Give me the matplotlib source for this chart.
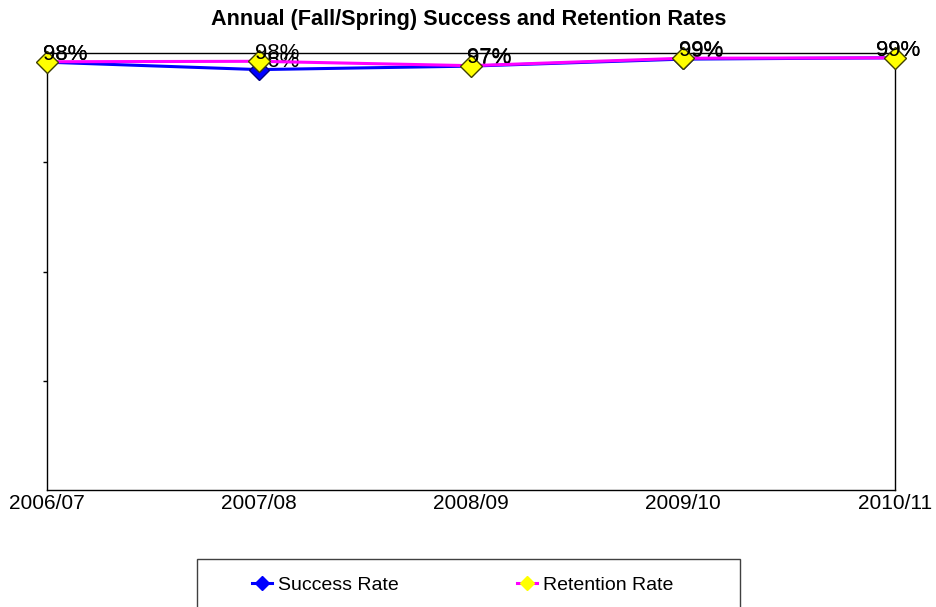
import matplotlib
matplotlib.use("Agg")
import matplotlib.pyplot as plt
from matplotlib.lines import Line2D
from matplotlib.patches import Rectangle

years = ["2006/07", "2007/08", "2008/09", "2009/10", "2010/11"]
success = [0.979, 0.962, 0.970, 0.986, 0.989]
retention = [0.980, 0.981, 0.971, 0.988, 0.989]
success_labels = ["98%", "96%", "97%", "99%", "99%"]
retention_labels = ["98%", "98%", "97%", "99%", "99%"]

plt.rcParams['font.family'] = ['Liberation Sans', 'DejaVu Sans']

W, H = 937, 607
fig = plt.figure(figsize=(W/100, H/100), dpi=100)
ax = fig.add_axes([47/W, 1-490/H, (895-47)/W, (490-53)/H])

x = list(range(len(years)))
ax.plot(x, success, color='#0000FF', lw=2.2, marker='D', ms=10,
        mfc='#0000FF', mec='#000080', mew=1, zorder=3, clip_on=False)
ax.plot(x, retention, color='#FF00FF', lw=2.2, marker='D', ms=11,
        mfc='#FFFF00', mec='#404000', mew=1, zorder=5, clip_on=False)

for i in range(len(years)):
    dx = 13 if i < len(years) - 1 else 2
    ax.annotate(success_labels[i], (x[i], success[i]), xytext=(dx, -2),
                textcoords='offset points', ha='center', va='bottom',
                fontsize=16, color='black', zorder=4, annotation_clip=False)
    ax.annotate(retention_labels[i], (x[i], retention[i]), xytext=(dx, -2),
                textcoords='offset points', ha='center', va='bottom',
                fontsize=16, color='black', zorder=6, annotation_clip=False)

ax.set_xlim(0, len(years) - 1)
ax.set_ylim(0, 1)
ax.set_xticks(x)
ax.set_xticklabels(years, fontsize=15)
ax.tick_params(axis='x', length=0, pad=3)
ax.set_yticks([0.25, 0.5, 0.75])
ax.set_yticklabels([])
ax.tick_params(axis='y', direction='out', length=3, width=1)
for s in ax.spines.values():
    s.set_color('black')
    s.set_linewidth(1)

fig.text(0.5, 1-20/H, "Annual (Fall/Spring) Success and Retention Rates",
         ha='center', va='center', fontsize=15.6, fontweight='bold')

# legend frame (extends beyond the bottom edge, as in the reference)
fig.patches.append(Rectangle((197/W, -20/H), (740-197)/W, (20+607-559)/H,
                             transform=fig.transFigure, fill=False,
                             edgecolor='#404040', lw=1))

handles = [
    Line2D([0], [0], color='#0000FF', lw=2.2, marker='D', ms=7,
           mfc='#0000FF', mec='#0000FF'),
    Line2D([0], [0], color='#FF00FF', lw=2.2, marker='D', ms=7,
           mfc='#FFFF00', mec='#FFFF00'),
]
leg = fig.legend(handles, ["Success Rate", "Retention Rate"], ncol=2,
                 loc='center left', bbox_to_anchor=(252/W, 1-585/H),
                 frameon=False, fontsize=14,
                 handlelength=1.03, columnspacing=6.1, borderpad=0,
                 handletextpad=0.31, borderaxespad=0)

fig.savefig("out.png", dpi=100)
